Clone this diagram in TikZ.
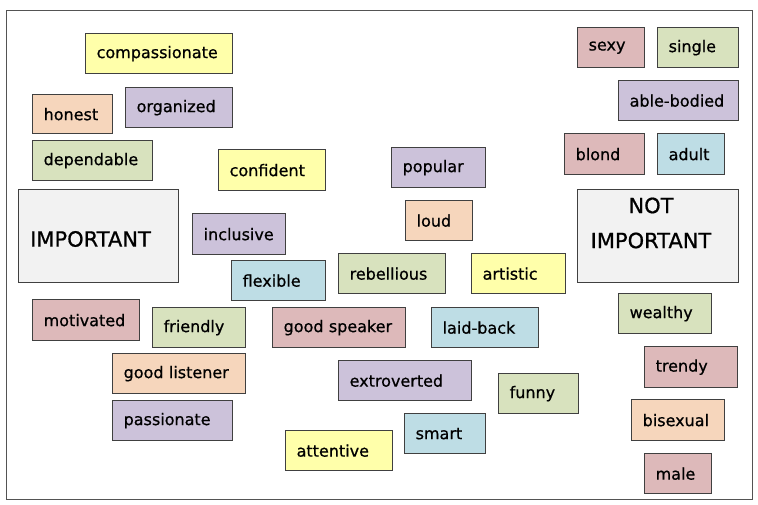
\documentclass[tikz,border=0pt]{standalone}
\usepackage{fontspec}
\setmainfont{DejaVu Sans}[BoldFont={DejaVu Sans}, BoldFeatures={FakeBold=0.7}]
\definecolor{cyel}{RGB}{255,255,170}
\definecolor{cpea}{RGB}{246,214,188}
\definecolor{cpur}{RGB}{204,194,218}
\definecolor{cgre}{RGB}{216,226,190}
\definecolor{cpin}{RGB}{221,185,186}
\definecolor{cblu}{RGB}{190,221,229}
\definecolor{cgra}{RGB}{242,242,242}
\definecolor{cedge}{RGB}{64,64,64}
\tikzset{
  wb/.style={draw=cedge, line width=1.3pt, rectangle, inner xsep=11pt, inner ysep=0pt,
    align=left, font=\fontsize{16}{18}\selectfont\bfseries, text=black},
  cattext/.style={inner sep=0pt, font=\fontsize{21}{35}\selectfont\bfseries, text=black},
}
\newcommand\wordbox[7]{%
  \pgfmathsetmacro\tw{#4-#2-22}%
  \pgfmathsetmacro\hh{#5-#3}%
  \node[wb, fill=#6, text width=\tw pt, minimum height=\hh pt, anchor=north west] (#1) at (#2,#3) {#7};}
\begin{document}
\begin{tikzpicture}[x=1pt,y=-1pt]
\useasboundingbox (0,0) rectangle (758,505);
\draw[draw=cedge!90, line width=1pt] (6,11) rectangle (752,499);
\wordbox{compassionate}{85}{33}{232}{73}{cyel}{compassionate}
\wordbox{honest}{32}{94}{112}{133}{cpea}{honest}
\wordbox{organized}{125}{87}{232}{127}{cpur}{organized}
\wordbox{dependable}{32}{140}{152}{180}{cgre}{dependable}
\wordbox{confident}{218}{149}{325}{190}{cyel}{confident}
\wordbox{inclusive}{192}{213}{285}{254}{cpur}{inclusive}
\wordbox{flexible}{231}{260}{325}{300}{cblu}{flexible}
\wordbox{motivated}{32}{299}{139}{340}{cpin}{motivated}
\wordbox{friendly}{152}{307}{245}{347}{cgre}{friendly}
\wordbox{goodspeaker}{272}{307}{405}{347}{cpin}{good speaker}
\wordbox{laidback}{431}{307}{538}{347}{cblu}{laid-back}
\wordbox{popular}{391}{147}{485}{187}{cpur}{popular}
\wordbox{loud}{405}{200}{472}{240}{cpea}{loud}
\wordbox{rebellious}{338}{253}{445}{293}{cgre}{rebellious}
\wordbox{artistic}{471}{253}{565}{293}{cyel}{artistic}
\wordbox{goodlistener}{112}{353}{245}{393}{cpea}{good listener}
\wordbox{passionate}{112}{400}{232}{440}{cpur}{passionate}
\wordbox{extroverted}{338}{360}{471}{400}{cpur}{extroverted}
\wordbox{funny}{498}{373}{578}{413}{cgre}{funny}
\wordbox{smart}{404}{413}{485}{453}{cblu}{smart}
\wordbox{attentive}{285}{430}{392}{470}{cyel}{attentive}
\wordbox{sexy}{577}{27}{644}{67}{cpin}{sexy}
\wordbox{single}{657}{27}{738}{67}{cgre}{single}
\wordbox{ablebodied}{618}{80}{738}{120}{cpur}{able-bodied}
\wordbox{blond}{564}{133}{644}{174}{cpin}{blond}
\wordbox{adult}{657}{133}{724}{174}{cblu}{adult}
\wordbox{wealthy}{618}{293}{711}{333}{cgre}{wealthy}
\wordbox{trendy}{644}{346}{737}{387}{cpin}{trendy}
\wordbox{bisexual}{631}{399}{724}{440}{cpea}{bisexual}
\wordbox{male}{644}{453}{711}{493}{cpin}{male}
% category boxes
\node[wb, fill=cgra, minimum width=160pt, minimum height=93pt, anchor=north west] (important) at (18,189) {};
\node[cattext, anchor=west] (important-t) at (30,239) {IMPORTANT};
\node[wb, fill=cgra, minimum width=161pt, minimum height=93pt, anchor=north west] (notimportant) at (577,189) {};
\node[cattext, align=center] (notimportant-t) at (651,223) {NOT\\IMPORTANT};
\end{tikzpicture}
\end{document}
